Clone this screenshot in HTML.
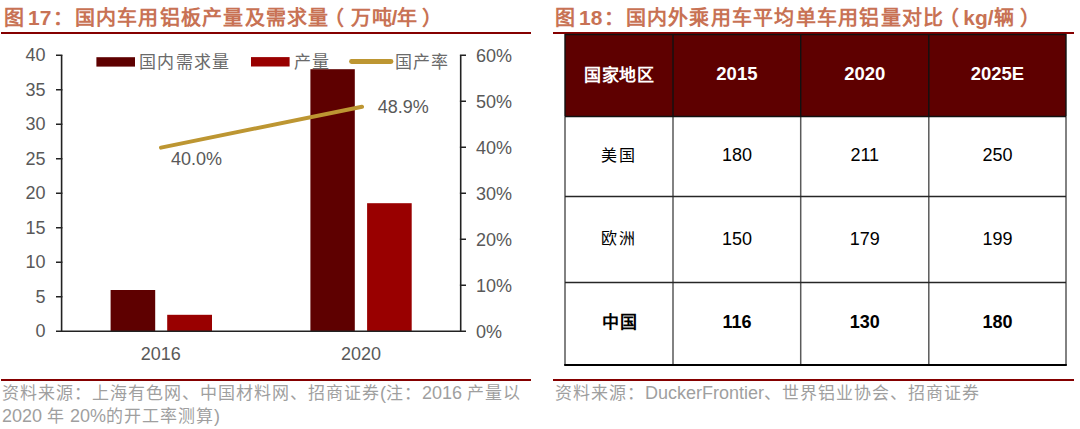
<!DOCTYPE html>
<html lang="zh-CN">
<head>
<meta charset="utf-8">
<style>
html,body{margin:0;padding:0;background:#fff;}
body{width:1080px;height:429px;position:relative;overflow:hidden;font-family:"Liberation Sans",sans-serif;}
.abs{position:absolute;white-space:nowrap;}
.title{font-size:21px;font-weight:bold;color:#c87254;line-height:24px;}
.tc{font-size:20px;letter-spacing:1.25px;}
.redline{position:absolute;height:2px;background:#850000;}
.foot{font-size:18px;color:#9f9f9f;line-height:22px;}
.cj{font-size:17px;letter-spacing:1px;}
table{position:absolute;border-collapse:collapse;}
</style>
</head>
<body>
<!-- LEFT TITLE -->
<div class="abs title" style="left:4px;top:6px;"><span class="tc">图</span><span style="margin-left:-3px"> 17</span><span class="tc" style="margin-left:2px">：国内车用铝板产量及需求量</span><span class="tc" style="margin-left:-6px;margin-right:6px">（</span><span class="tc">万吨</span><span style="margin-left:-2px">/</span><span class="tc">年</span><span class="tc" style="margin-left:3.5px">）</span></div>
<div class="redline" style="left:1px;top:32px;width:530px;"></div>

<svg class="abs" style="left:0;top:0" width="540" height="380">
  <g fill="#5e0000">
    <rect x="110.6" y="290" width="44.6" height="41.3"/>
    <rect x="310.4" y="69.2" width="44.4" height="262.1"/>
  </g>
  <g fill="#990000">
    <rect x="167.2" y="314.8" width="44.8" height="16.5"/>
    <rect x="367.1" y="203.2" width="44.6" height="128.1"/>
  </g>
  <g stroke="#222" stroke-width="1.6" fill="none">
    <path d="M61.6 55.3V331.3"/>
    <path d="M56 331.3H466"/>
    <path d="M56 55.3H62.4M56 89.8H62.4M56 124.3H62.4M56 158.8H62.4M56 193.3H62.4M56 227.8H62.4M56 262.3H62.4M56 296.8H62.4"/>
    <path d="M460.7 55.3V331.3"/>
    <path d="M459.9 55.3H466M459.9 101.3H466M459.9 147.3H466M459.9 193.3H466M459.9 239.3H466M459.9 285.3H466"/>
  </g>
  <path d="M161 147.6L362 106.7" stroke="#bd9632" stroke-width="4" stroke-linecap="round"/>
  <g font-family="Liberation Sans" font-size="18" fill="#595959" text-anchor="end">
    <text x="45.5" y="61.3">40</text>
    <text x="45.5" y="95.8">35</text>
    <text x="45.5" y="130.3">30</text>
    <text x="45.5" y="164.8">25</text>
    <text x="45.5" y="199.3">20</text>
    <text x="45.5" y="233.8">15</text>
    <text x="45.5" y="268.3">10</text>
    <text x="45.5" y="302.8">5</text>
    <text x="45.5" y="337.3">0</text>
  </g>
  <g font-family="Liberation Sans" font-size="18" fill="#595959">
    <text x="476" y="62">60%</text>
    <text x="476" y="108">50%</text>
    <text x="476" y="154">40%</text>
    <text x="476" y="200">30%</text>
    <text x="476" y="246">20%</text>
    <text x="476" y="292">10%</text>
    <text x="476" y="337.6">0%</text>
    <text x="171" y="164.5">40.0%</text>
    <text x="377.7" y="113.3">48.9%</text>
  </g>
  <g font-family="Liberation Sans" font-size="18" fill="#595959" text-anchor="middle">
    <text x="160.8" y="359.5">2016</text>
    <text x="361" y="359.5">2020</text>
  </g>
  <!-- legend -->
  <rect x="96.4" y="57.2" width="38.6" height="9.4" fill="#5e0000"/>
  <rect x="251" y="57.1" width="38.6" height="9.4" fill="#990000"/>
  <path d="M351.5 61.5H391" stroke="#bd9632" stroke-width="4.8" stroke-linecap="round"/>
  <g font-family="Liberation Sans" font-size="17" fill="#6a6a6a" style="letter-spacing:1.25px">
    <text x="139.2" y="67.8">国内需求量</text>
    <text x="293.6" y="67.8">产量</text>
    <text x="394.8" y="67.8">国产率</text>
  </g>
</svg>

<div class="redline" style="left:1px;top:379px;width:530px;"></div>
<div class="abs foot" style="left:2px;top:382px;"><span class="cj">资料来源：上海有色网、中国材料网、招商证券</span>(<span class="cj">注：</span>2016 <span class="cj">产量以</span></div>
<div class="abs foot" style="left:2px;top:405px;">2020 <span class="cj">年</span> 20%<span class="cj">的开工率测算</span>)</div>

<!-- RIGHT TITLE -->
<div class="abs title" style="left:555px;top:6px;"><span class="tc">图</span><span style="margin-left:-3px"> 18</span><span class="tc" style="margin-left:2px">：国内外乘用车平均单车用铝量对比</span><span class="tc" style="margin-left:-5.5px;margin-right:3px">（</span>kg/<span class="tc">辆</span><span class="tc" style="margin-left:5.5px">）</span></div>
<div class="redline" style="left:553px;top:32px;width:521px;"></div>

<svg class="abs" style="left:540px;top:0" width="540" height="380">
  <rect x="25" y="34" width="501" height="82.3" fill="#5e0000"/>
  <g fill="none">
    <path d="M25 34V116M133 34V116M260.7 34V116M388.8 34V116M526 34V116" stroke="#111" stroke-width="1.4"/>
    <path d="M25 116V365M133 116V365M260.7 116V365M388.8 116V365M526 116V365" stroke="#5a5a5a" stroke-width="1.5"/>
    <path d="M25 34.5H526" stroke="#111" stroke-width="1.4"/>
    <path d="M25 116.4H526" stroke="#111" stroke-width="1.5"/>
    <path d="M25 196.4H526M25 282.5H526" stroke="#262626" stroke-width="1.5"/>
    <path d="M24.2 365H526.8" stroke="#000" stroke-width="2.2"/>
  </g>
  <g font-family="Liberation Sans" font-size="18.5" font-weight="bold" fill="#fff" text-anchor="middle">
    <text x="44.3" y="81.2" font-size="17" style="letter-spacing:0.5px" text-anchor="start">国家地区</text>
    <text x="196.9" y="80.2">2015</text>
    <text x="324.8" y="80.2">2020</text>
    <text x="457.4" y="80.2">2025E</text>
  </g>
  <g font-family="Liberation Sans" font-size="18" fill="#000" text-anchor="middle">
    <text x="61.2" y="161" font-size="16" style="letter-spacing:1.8px" text-anchor="start">美国</text>
    <text x="196.9" y="161.3">180</text>
    <text x="324.8" y="161.3">211</text>
    <text x="457.4" y="161.3">250</text>
    <text x="61.2" y="244" font-size="16" style="letter-spacing:1.8px" text-anchor="start">欧洲</text>
    <text x="196.9" y="244.8">150</text>
    <text x="324.8" y="244.8">179</text>
    <text x="457.4" y="244.8">199</text>
  </g>
  <g font-family="Liberation Sans" font-size="18" font-weight="bold" fill="#000" text-anchor="middle">
    <text x="61.6" y="328.2" font-size="17" style="letter-spacing:1.4px" text-anchor="start">中国</text>
    <text x="196.9" y="328">116</text>
    <text x="324.8" y="328">130</text>
    <text x="457.4" y="328">180</text>
  </g>
</svg>

<div class="redline" style="left:553px;top:379px;width:521px;"></div>
<div class="abs foot" style="left:555px;top:382px;"><span class="cj">资料来源：</span>DuckerFrontier<span class="cj">、世界铝业协会、招商证券</span></div>
</body>
</html>
